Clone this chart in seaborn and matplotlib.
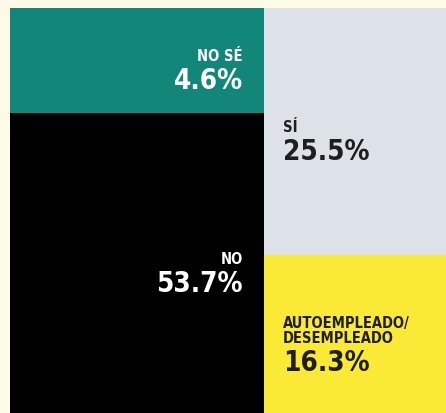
import matplotlib
matplotlib.use('Agg')
import matplotlib.pyplot as plt
import seaborn as sns

# Datos: ¿... ? respuestas en porcentaje
left_labels = ['NO SÉ', 'NO']
left_values = [4.6, 53.7]
left_colors = ['#13867a', '#000000']
left_text = ['white', 'white']

right_labels = ['SÍ', 'AUTOEMPLEADO/\nDESEMPLEADO']
right_values = [25.5, 16.3]
right_colors = ['#dce2e8', '#fae935']
right_text = ['#1e1e1e', '#1e1e1e']

sns.set_theme(style='white')
plt.rcParams['font.family'] = ['DejaVu Sans']

bg = '#fdfbe8'
fig = plt.figure(figsize=(4.46, 4.14), dpi=100, facecolor=bg)
ax = fig.add_axes([10 / 446, 0, 436 / 446, 405 / 414])
ax.set_facecolor(bg)

left_w = sum(left_values)
right_w = sum(right_values)
min_share = 0.26  # las celdas pequeñas se muestran más grandes para el texto


def shares(vals, min_share=0.0):
    tot = sum(vals)
    s = [v / tot for v in vals]
    s[0] = max(s[0], min_share)
    rest = 1 - s[0]
    tail = sum(s[1:])
    return [s[0]] + [x / tail * rest for x in s[1:]]


def draw_column(x0, w, labels, values, colors, tcolors, min_share, side):
    top = 0.0
    for lab, val, col, tc, h in zip(labels, values, colors, tcolors, shares(values, min_share)):
        ax.bar(x0, h, width=w, bottom=top, align='edge', color=col, linewidth=0)
        cy = top + h / 2
        nlines = lab.count('\n') + 1
        base_off = -(nlines * 17 + 28) / 2 - 5
        if side == 'left':
            tx, ha, dx = x0 + w, 'right', -21
        else:
            tx, ha, dx = x0, 'left', 19
        ax.annotate(f'{val}%', (tx, cy), xytext=(dx, base_off), textcoords='offset pixels',
                    ha=ha, va='baseline', fontsize=20, fontweight='bold', color=tc,
                    fontstretch='condensed')
        ax.annotate(lab, (tx, cy), xytext=(dx, base_off + 28), textcoords='offset pixels',
                    ha=ha, va='baseline', fontsize=10.5, fontweight='bold', color=tc,
                    linespacing=1.0, fontstretch='condensed')
        top += h


draw_column(0, left_w, left_labels, left_values, left_colors, left_text, min_share, 'left')
draw_column(left_w, right_w, right_labels, right_values, right_colors, right_text, 0.0, 'right')

ax.set_xlim(0, left_w + right_w)
ax.set_ylim(1, 0)
ax.axis('off')

fig.savefig('out.png', dpi=100, facecolor=bg)
